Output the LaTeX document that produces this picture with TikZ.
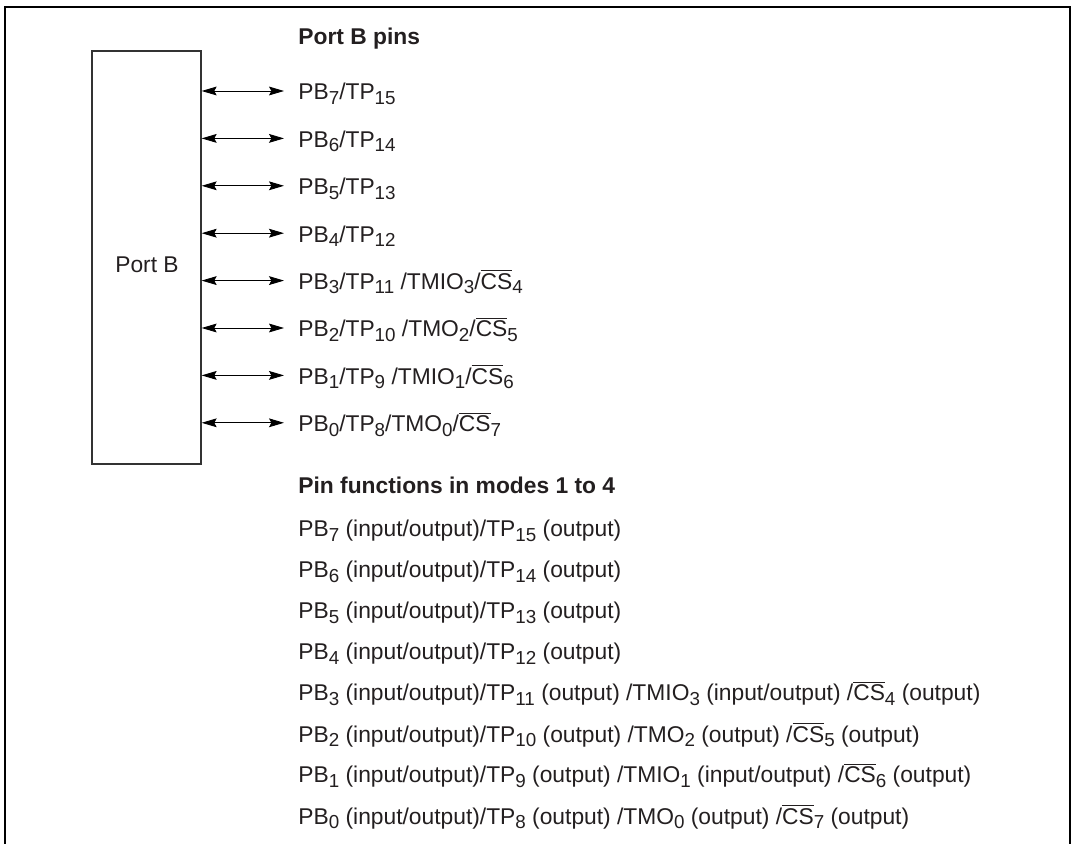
\documentclass[tikz,border=0pt]{standalone}
\usepackage{fontspec}
\setmainfont{Liberation Sans}
\usetikzlibrary{arrows.meta}

\definecolor{ink}{RGB}{35,31,32}
\definecolor{boxline}{RGB}{51,51,51}

\newcommand{\sbs}[1]{\raisebox{-2.2pt}{\fontsize{9.4}{10}\selectfont #1}}
\newcommand{\csbar}{$\overline{\mbox{CS}}$}

\begin{document}
\begin{tikzpicture}[x=0.5pt, y=-0.5pt,
    txt/.style={font=\fontsize{11.4}{14}\selectfont, text=ink, inner sep=0pt},
    head/.style={txt, font=\fontsize{11.4}{14}\selectfont\bfseries, anchor=base west},
    pin/.style={txt, anchor=west, text height=9pt, text depth=0pt},
    func/.style={txt, anchor=base west},
    portbox/.style={rectangle, draw=boxline, line width=0.65pt, minimum width=54.5pt, minimum height=206.5pt, inner sep=0pt},
    pinarrow/.style={{Stealth[length=7.5pt, width=4.4pt, inset=1.2pt]}-{Stealth[length=7.5pt, width=4.4pt, inset=1.2pt]}, line width=0.45pt, shorten >=7pt},
    frame/.style={line width=1.1pt}
]
\useasboundingbox (0,0) rectangle (1072,844);
\draw[frame] (5,844) -- (5,7) -- (1070,7) -- (1070,844);

% port block
\node[portbox] (portb) at (146.5,257.5) {};
\node[txt] (portlbl) at (147,265) {Port B};

% pins
\node[head] (pinshead) at (298,45) {Port B pins};
\node[pin] (pin7) at (298,91) {PB\sbs{7}/TP\sbs{15}};
\node[pin] (pin6) at (298,138.4) {PB\sbs{6}/TP\sbs{14}};
\node[pin] (pin5) at (298,185.8) {PB\sbs{5}/TP\sbs{13}};
\node[pin] (pin4) at (298,233.2) {PB\sbs{4}/TP\sbs{12}};
\node[pin] (pin3) at (298,280.6) {PB\sbs{3}/TP\sbs{11} /TMIO\sbs{3}/\csbar\sbs{4}};
\node[pin] (pin2) at (298,328) {PB\sbs{2}/TP\sbs{10} /TMO\sbs{2}/\csbar\sbs{5}};
\node[pin] (pin1) at (298,375.4) {PB\sbs{1}/TP\sbs{9} /TMIO\sbs{1}/\csbar\sbs{6}};
\node[pin] (pin0) at (298,422.8) {PB\sbs{0}/TP\sbs{8}/TMO\sbs{0}/\csbar\sbs{7}};

\foreach \n in {0,...,7}
  \draw[pinarrow] (portb.east |- pin\n.west) -- (pin\n.west);

% functions in modes 1 to 4
\node[head] (funchead) at (298,494) {Pin functions in modes 1 to 4};
\node[func] (fn7) at (298,537) {PB\sbs{7} (input/output)/TP\sbs{15} (output)};
\node[func] (fn6) at (298,578) {PB\sbs{6} (input/output)/TP\sbs{14} (output)};
\node[func] (fn5) at (298,619) {PB\sbs{5} (input/output)/TP\sbs{13} (output)};
\node[func] (fn4) at (298,660) {PB\sbs{4} (input/output)/TP\sbs{12} (output)};
\node[func] (fn3) at (298,701) {PB\sbs{3} (input/output)/TP\sbs{11} (output) /TMIO\sbs{3} (input/output) /\csbar\sbs{4} (output)};
\node[func] (fn2) at (298,742) {PB\sbs{2} (input/output)/TP\sbs{10} (output) /TMO\sbs{2} (output) /\csbar\sbs{5} (output)};
\node[func] (fn1) at (298,783) {PB\sbs{1} (input/output)/TP\sbs{9} (output) /TMIO\sbs{1} (input/output) /\csbar\sbs{6} (output)};
\node[func] (fn0) at (298,824) {PB\sbs{0} (input/output)/TP\sbs{8} (output) /TMO\sbs{0} (output) /\csbar\sbs{7} (output)};
\end{tikzpicture}
\end{document}
